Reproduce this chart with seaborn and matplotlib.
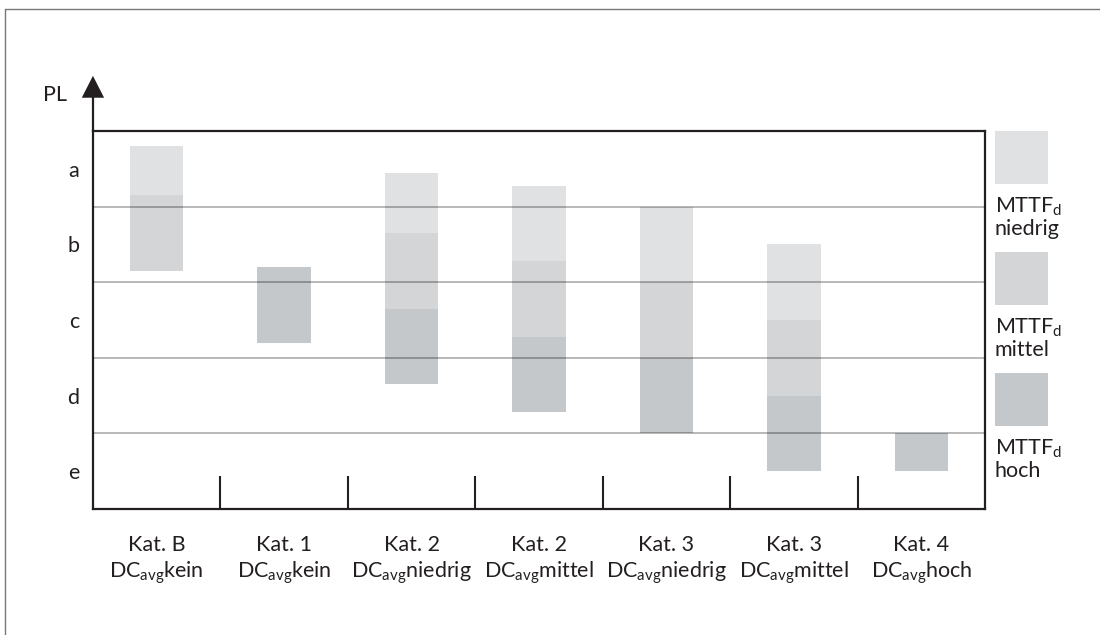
import numpy as np
import pandas as pd
import matplotlib.pyplot as plt
import seaborn as sns
from matplotlib.patches import Polygon, Rectangle
from matplotlib.lines import Line2D

sns.set_theme(style="white")
plt.rcParams['font.family'] = ['Lato', 'DejaVu Sans']
plt.rcParams['mathtext.default'] = 'regular'

# ==========================================
# DATA (PL scale: e=0..1, d=1..2, c=2..3, b=3..4, a=4..5)
# ==========================================
kat_labels = ["Kat. B", "Kat. 1", "Kat. 2", "Kat. 2", "Kat. 3", "Kat. 3", "Kat. 4"]
dc_labels = ["kein", "kein", "niedrig", "mittel", "niedrig", "mittel", "hoch"]
pl_levels = ["a", "b", "c", "d", "e"]
pl_centers = [4.5, 3.5, 2.5, 1.5, 0.5]

niedrig_top = [4.8, np.nan, 4.45, 4.27, 4.0, 3.5, np.nan]
niedrig_bottom = [4.15, np.nan, 3.65, 3.28, 3.0, 2.5, np.nan]
mittel_top = [4.15, np.nan, 3.65, 3.28, 3.0, 2.5, np.nan]
mittel_bottom = [3.15, np.nan, 2.65, 2.28, 2.0, 1.5, np.nan]
hoch_top = [np.nan, 3.2, 2.65, 2.28, 2.0, 1.5, 1.0]
hoch_bottom = [np.nan, 2.2, 1.65, 1.28, 1.0, 0.5, 0.5]

mttf_names = ["niedrig", "mittel", "hoch"]
mttf_colors = {"niedrig": "#e0e1e3", "mittel": "#d4d5d7", "hoch": "#c5c8cb"}

segments = pd.DataFrame({
    "pos": list(range(7)) * 3,
    "mttf": np.repeat(mttf_names, 7),
    "top": niedrig_top + mittel_top + hoch_top,
    "bottom": niedrig_bottom + mittel_bottom + hoch_bottom,
}).dropna()

FS = 15.5
INK = "#231f20"

# ==========================================
# FIGURE
# ==========================================
fig = plt.figure(figsize=(11, 6.35), dpi=100)
ax = fig.add_axes([0.0845, 0.1984, 0.811, 0.5953])

for _, row in segments.iterrows():
    ax.bar(row["pos"], row["top"] - row["bottom"], bottom=row["bottom"], width=0.42,
           color=mttf_colors[row["mttf"]], linewidth=0, zorder=2)

# horizontal PL boundaries
for y in [1, 2, 3, 4]:
    ax.axhline(y, color="black", alpha=0.3, linewidth=1.3, zorder=3)

# category dividers at bottom
for x in np.arange(0.5, 6.5, 1.0):
    ax.plot([x, x], [0, 0.44], color=INK, linewidth=1.5, zorder=4, solid_capstyle="butt")

ax.set_xlim(-0.5, 6.5)
ax.set_ylim(0, 5)
ax.set_xticks(range(7))
ax.set_xticklabels([f"{k}\nDC$_{{avg}}${d}" for k, d in zip(kat_labels, dc_labels)],
                   fontsize=FS, color=INK, linespacing=1.2)
ax.set_yticks(pl_centers)
ax.set_yticklabels(pl_levels, fontsize=FS, color=INK)
ax.tick_params(axis="both", length=0)
ax.tick_params(axis="x", pad=19)
ax.tick_params(axis="y", pad=10)
for sp in ax.spines.values():
    sp.set_color(INK)
    sp.set_linewidth(1.6)

# y-axis arrow above the box
ytr = ax.get_yaxis_transform()
ax.plot([0, 0], [5, 5.45], color=INK, linewidth=1.6, transform=ytr, clip_on=False)
ax.add_patch(Polygon([[-0.0125, 5.44], [0.0125, 5.44], [0, 5.73]], closed=True,
                     facecolor=INK, edgecolor="none", transform=ytr, clip_on=False))
ax.text(-0.029, 5.47, "PL", transform=ytr, fontsize=FS, color=INK,
        ha="right", va="center")

# legend on the right
leg_tops = [131, 252, 373]
for name, top in zip(mttf_names, leg_tops):
    fig.patches.append(Rectangle((995 / 1100, 1 - (top + 53) / 635), 53 / 1100, 53 / 635,
                                 transform=fig.transFigure, facecolor=mttf_colors[name],
                                 edgecolor="none"))
    fig.text(995 / 1100, 1 - (top + 76) / 635, "MTTF$_d$", fontsize=FS, color=INK,
             ha="left", va="center")
    fig.text(995 / 1100, 1 - (top + 98) / 635, name, fontsize=FS, color=INK,
             ha="left", va="center")

# outer frame (top and left)
fig.add_artist(Line2D([5 / 1100, 1.0], [1 - 9 / 635, 1 - 9 / 635], color="#777777", linewidth=1.0))
fig.add_artist(Line2D([5 / 1100, 5 / 1100], [0, 1 - 9 / 635], color="#777777", linewidth=1.0))

fig.savefig("out.png", dpi=100)
